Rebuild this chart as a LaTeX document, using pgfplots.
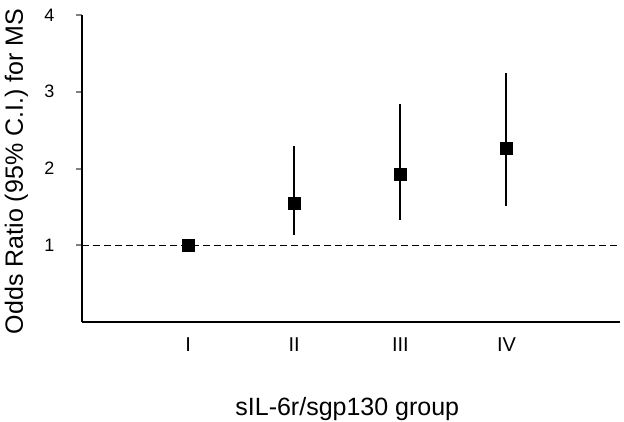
\documentclass[border=0pt]{standalone}
\usepackage{fontspec}
\setmainfont{Liberation Sans}
\usepackage{pgfplots}
\usepackage{pgfplotstable}
\pgfplotsset{compat=1.18}

% odds ratio with 95% CI: x, OR, upper minus OR, OR minus lower
\pgfplotstableread{
x y ep em
1 1.000 0     0
2 1.543 0.753 0.408
3 1.926 0.914 0.600
4 2.266 0.982 0.757
}\ortable

\begin{document}
\begin{tikzpicture}
\begin{axis}[
  at={(0,0)}, anchor=south west,
  scale only axis, width=538pt, height=307pt,
  xmin=0, xmax=5.07, ymin=0, ymax=4,
  axis x line*=bottom, axis y line*=left,
  axis line style={line width=2pt},
  xtick={1,2,3,4}, xticklabels={I,II,III,IV},
  ytick={1,2,3,4},
  yticklabels={1,2,3,4},
  major x tick style={draw=none},
  major tick length=6pt, tick align=outside,
  major y tick style={line width=2pt},
  xticklabel style={font=\fontsize{20}{24}\selectfont, yshift=-6pt},
  yticklabel style={font=\fontsize{18}{21}\selectfont, xshift=-18pt},
  xlabel={sIL-6r/sgp130 group},
  ylabel={Odds Ratio (95\% C.I.) for MS},
  xlabel style={font=\fontsize{25}{30}\selectfont, at={(axis cs:2.5,0)}, anchor=base, yshift=-93pt},
  ylabel style={font=\fontsize{25}{30}\selectfont, at={(axis description cs:0,0.5)}, anchor=base, yshift=59pt, xshift=-3pt},
  clip=false,
]
\addplot[black, line width=1.3pt, dash pattern=on 7pt off 4pt] coordinates {(0,1) (5.07,1)};
\addplot[only marks, mark=square*, mark size=6pt,
  mark options={fill=black, draw=black, line width=0pt},
  error bars/.cd, y dir=both, y explicit,
  error mark=none, error bar style={line width=2pt, black}]
  table[x=x, y=y, y error plus=ep, y error minus=em] {\ortable};
\end{axis}
\pgfresetboundingbox
\useasboundingbox (-82pt,-99pt) rectangle (542pt,322pt);
\end{tikzpicture}
\end{document}
